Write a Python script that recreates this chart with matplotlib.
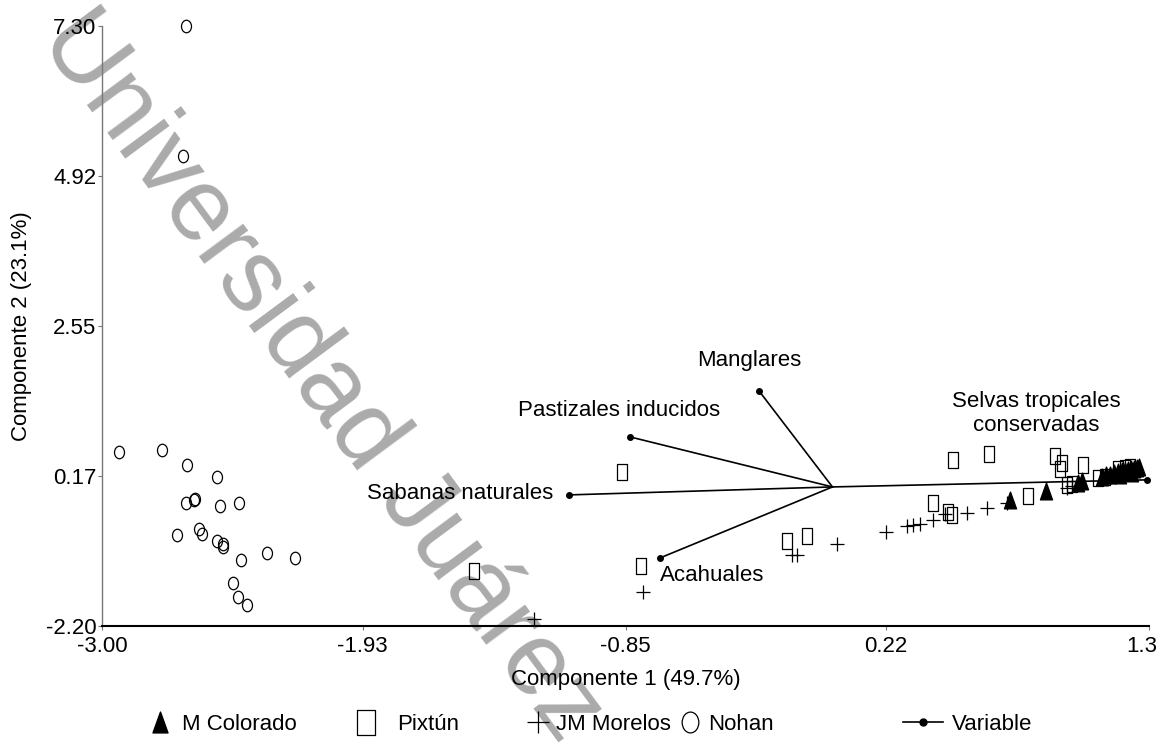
import numpy as np
import matplotlib
matplotlib.use('Agg')
import matplotlib.pyplot as plt
from matplotlib.lines import Line2D
from matplotlib.path import Path
from matplotlib.transforms import Affine2D, ScaledTranslation

plt.rcParams['font.family'] = ['Liberation Sans', 'DejaVu Sans']

# puntuaciones de los sitios en los dos primeros componentes
colorado_x = [0.729, 0.876, 1.009, 1.023, 1.107, 1.123, 1.140, 1.156, 1.172, 1.181,
              1.189, 1.201, 1.214, 1.226, 1.230, 1.238, 1.251, 1.259]
colorado_y = [-0.210, -0.063, 0.069, 0.096, 0.159, 0.191, 0.191, 0.222, 0.238, 0.191,
              0.254, 0.254, 0.270, 0.286, 0.222, 0.286, 0.302, 0.317]

pixtun_x = [-0.866, -1.472, -0.788, -0.186, -0.106, 0.496, 0.644, 0.914, 0.941, 0.934,
            1.030, 1.092, 1.174, 0.962, 0.982, 0.411, 0.473, 0.490, 0.802, 1.119,
            1.201, 1.222]
pixtun_y = [0.243, -1.329, -1.258, -0.854, -0.780, 0.428, 0.518, 0.492, 0.386, 0.291,
            0.344, 0.148, 0.281, 0.028, 0.044, -0.248, -0.395, -0.447, -0.147, 0.164,
            0.302, 0.317]

morelos_x = [-1.225, -0.779, -0.168, -0.147, 0.020, 0.218, 0.305, 0.332, 0.359, 0.414,
             0.462, 0.551, 0.633, 0.715, 0.962, 0.982]
morelos_y = [-2.094, -1.666, -1.076, -1.076, -0.906, -0.712, -0.612, -0.606, -0.590, -0.527,
             -0.432, -0.406, -0.327, -0.248, -0.010, 0.017]

nohan_x = [-2.929, -2.755, -2.650, -2.527, -2.655, -2.622, -2.618, -2.515, -2.437, -2.692,
           -2.602, -2.591, -2.528, -2.504, -2.503, -2.324, -2.206, -2.430, -2.461, -2.441,
           -2.405, -2.656, -2.667]
nohan_y = [0.555, 0.587, 0.349, 0.164, -0.253, -0.205, -0.189, -0.300, -0.257, -0.754,
           -0.669, -0.748, -0.859, -0.906, -0.949, -1.039, -1.123, -1.150, -1.519, -1.736,
           -1.863, 7.289, 5.241]

# vectores de las variables
variables = ['Sabanas naturales', 'Pastizales inducidos', 'Manglares', 'Acahuales',
             'Selvas tropicales\nconservadas']
load_x = [-1.082, -0.832, -0.302, -0.708, 1.292]
load_y = [-0.126, 0.792, 1.521, -1.123, 0.112]

xticks = [-3.00, -1.93, -0.85, 0.22, 1.30]
xticklabels = ['-3.00', '-1.93', '-0.85', '0.22', '1.3']
yticks = [-2.20, 0.17, 2.55, 4.92, 7.30]
yticklabels = ['-2.20', '0.17', '2.55', '4.92', '7.30']

# marcadores algo mas altos que anchos
rect_mk = Path([(-0.35, -0.5), (0.35, -0.5), (0.35, 0.5), (-0.35, 0.5), (-0.35, -0.5)],
               [Path.MOVETO, Path.LINETO, Path.LINETO, Path.LINETO, Path.CLOSEPOLY])
oval_mk = Path.unit_circle().transformed(Affine2D().scale(0.8, 1.0))
tri_mk = Path([(0, 0.5), (-0.36, -0.5), (0.36, -0.5), (0, 0.5)],
              [Path.MOVETO, Path.LINETO, Path.LINETO, Path.CLOSEPOLY])

W, H = 1163, 742
fig = plt.figure(figsize=(W / 100, H / 100), dpi=100)
ax = fig.add_axes([102 / W, 1 - 626 / H, 1047 / W, 600.5 / H])
ax.patch.set_visible(False)

# marca de agua
fig.text(321 / W, 1 - 377 / H, 'Universidad Juárez', rotation=-53.5, rotation_mode='anchor',
         ha='center', va='center', fontsize=74, color='#ababab', zorder=-5)

fs = 16
ax.plot(pixtun_x, pixtun_y, ls='none', marker=rect_mk, ms=11, mfc='none', mec='black',
        mew=0.9, zorder=3, clip_on=False)
ax.plot(morelos_x, morelos_y, ls='none', marker='+', ms=10, mec='black', mew=0.9, zorder=3,
        clip_on=False)
ax.plot(nohan_x, nohan_y, ls='none', marker=oval_mk, ms=9, mfc='none', mec='black',
        mew=0.9, zorder=3, clip_on=False)
ax.plot(colorado_x, colorado_y, ls='none', marker=tri_mk, ms=12, color='black', zorder=4,
        clip_on=False)

offsets = [(-11, 1), (-8, 19), (-7, 22), (0, -13), (-80, 48)]
aligns = ['right', 'center', 'center', 'left', 'center']
for name, vx, vy, off, ha in zip(variables, load_x, load_y, offsets, aligns):
    ax.plot([0, vx], [0, vy], color='black', lw=1.2, zorder=5)
    ax.plot([vx], [vy], marker='o', ms=4, color='black', zorder=5, clip_on=False)
    ax.annotate(name, (vx, vy), xytext=off, textcoords='offset points', ha=ha,
                va='center', multialignment='center', fontsize=fs, zorder=6)

ax.set_xlim(-3.0, 1.3)
ax.set_ylim(-2.2, 7.3)
ax.set_xticks(xticks)
ax.set_xticklabels(xticklabels)
ax.set_yticks(yticks)
ax.set_yticklabels(yticklabels)
ax.tick_params(axis='both', direction='out', length=3, width=0.8, color='#777777',
               labelsize=fs, pad=1)
ax.tick_params(axis='x', pad=4)
ax.spines['top'].set_visible(False)
ax.spines['right'].set_visible(False)
ax.spines['left'].set_color('#777777')
ax.spines['left'].set_linewidth(1.0)
ax.spines['bottom'].set_color('black')
ax.spines['bottom'].set_linewidth(1.5)

# la ultima etiqueta del eje x queda pegada al borde derecho
last = ax.get_xticklabels()[-1]
last.set_transform(last.get_transform() + ScaledTranslation(-0.07, 0, fig.dpi_scale_trans))

ax.set_xlabel('Componente 1 (49.7%)', fontsize=fs)
ax.set_ylabel('Componente 2 (23.1%)', fontsize=fs)
ax.xaxis.set_label_coords(0.5, -0.072)
ax.yaxis.set_label_coords(-0.067, 0.5)

# leyenda: cada entrada en su sitio
legend_items = [
    (Line2D([], [], ls='none', marker=tri_mk, ms=15, color='black'), 'M Colorado', 149, 1.0, 0.5),
    (Line2D([], [], ls='none', marker=rect_mk, ms=18, mfc='none', mec='black', mew=0.9),
     'Pixtún', 355, 1.0, 0.9),
    (Line2D([], [], ls='none', marker='+', ms=16, mec='black', mew=0.9), 'JM Morelos', 527, 1.0, 0.3),
    (Line2D([], [], ls='none', marker=oval_mk, ms=15, mfc='none', mec='black', mew=0.9),
     'Nohan', 679, 1.0, 0.3),
    (Line2D([], [], color='black', lw=1.2, marker='o', ms=5), 'Variable', 903, 1.8, 0.4),
]
for h, lab, xpix, hl, tp in legend_items:
    fig.legend([h], [lab], loc='center left', bbox_to_anchor=(xpix / W, 1 - 724 / H),
               frameon=False, fontsize=fs, handlelength=hl, handletextpad=tp,
               borderpad=0, borderaxespad=0)

fig.savefig('out.png', dpi=100)
